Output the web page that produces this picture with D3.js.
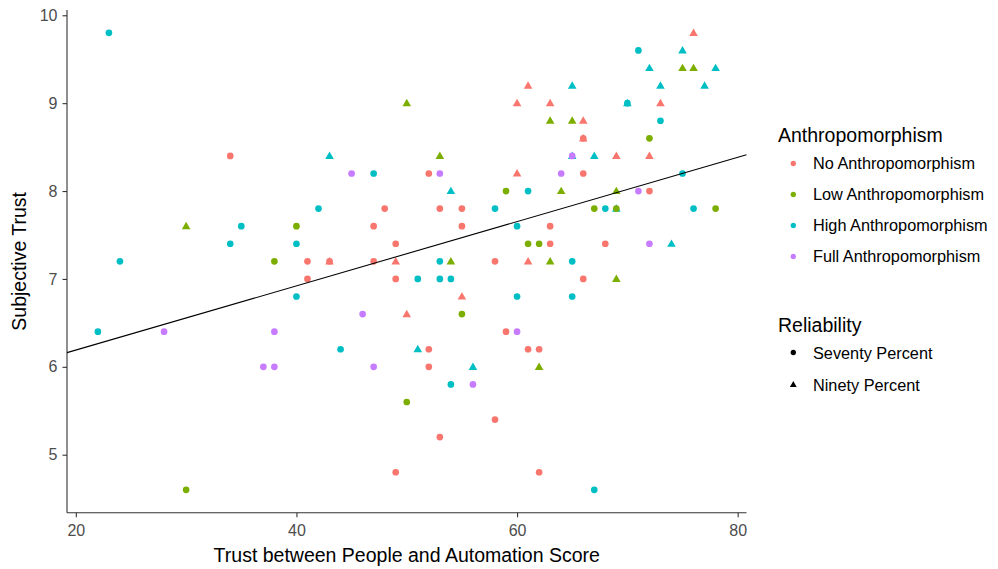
<!DOCTYPE html>
<html>
<head>
<meta charset="utf-8">
<script src="https://cdn.jsdelivr.net/npm/d3@7"></script>
<style>
  html, body { margin: 0; padding: 0; background: #fff; }
  text { font-family: "Liberation Sans", Arial, sans-serif; }
</style>
</head>
<body>
<svg id="chart" width="998" height="569"></svg>
<script>
// Anthropomorphism levels and reliability conditions
const anthroLevels = ["No Anthropomorphism", "Low Anthropomorphism", "High Anthropomorphism", "Full Anthropomorphism"];
const anthroColors = ["#F8766D", "#7CAE00", "#00BFC4", "#C77CFF"];
const reliabilityLevels = ["Seventy Percent", "Ninety Percent"];

const xTicks = [20, 40, 60, 80];
const yTicks = [5, 6, 7, 8, 9, 10];

// [trust score, subjective trust] per participant, grouped by condition
const noSeventy = [[34, 8.4], [52, 8.2], [48, 7.8], [53, 7.8], [55, 7.8], [47, 7.6], [55, 7.6], [49, 7.4], [41, 7.2], [47, 7.2], [58, 7.2], [41, 7.0], [49, 7.0], [52, 6.2], [52, 6.0], [58, 5.4], [53, 5.2], [49, 4.8], [66, 7.0], [59, 6.4], [61, 6.2], [62, 6.2], [62, 4.8], [66, 8.6], [66, 8.2], [72, 8.0], [63, 7.6], [63, 7.4], [68, 7.4], [43, 7.2]];
const noNinety = [[43, 7.2], [49, 7.2], [55, 6.8], [50, 6.6], [76, 9.8], [61, 9.2], [60, 9.0], [63, 9.0], [73, 9.0], [66, 8.8], [69, 8.4], [72, 8.4], [60, 8.2], [61, 7.2], [66, 8.6]];
const lowSeventy = [[40, 7.6], [38, 7.2], [55, 6.6], [50, 5.6], [30, 4.6], [72, 8.6], [59, 8.0], [67, 7.8], [69, 7.8], [78, 7.8], [61, 7.4], [62, 7.4]];
const lowNinety = [[30, 7.6], [50, 9.0], [53, 8.4], [54, 7.2], [69, 7.0], [62, 6.0], [75, 9.4], [76, 9.4], [63, 8.8], [65, 8.8], [64, 8.0], [69, 8.0], [63, 7.2]];
const highSeventy = [[23, 9.8], [35, 7.6], [34, 7.4], [24, 7.2], [47, 8.2], [42, 7.8], [58, 7.8], [40, 7.4], [53, 7.2], [51, 7.0], [53, 7.0], [54, 7.0], [40, 6.8], [44, 6.2], [54, 5.8], [22, 6.4], [60, 6.8], [65, 6.8], [67, 4.6], [71, 9.6], [70, 9.0], [73, 8.8], [75, 8.2], [61, 8.0], [68, 7.8], [76, 7.8], [60, 7.6], [65, 7.2]];
const highNinety = [[43, 8.4], [54, 8.0], [51, 6.2], [56, 6.0], [75, 9.6], [72, 9.4], [78, 9.4], [65, 9.2], [73, 9.2], [77, 9.2], [70, 9.0], [65, 8.4], [67, 8.4], [74, 7.4], [69, 7.8]];
const fullSeventy = [[45, 8.2], [53, 8.2], [46, 6.6], [38, 6.4], [37, 6.0], [38, 6.0], [47, 6.0], [56, 5.8], [28, 6.4], [60, 6.4], [65, 8.4], [64, 8.2], [71, 8.0], [72, 7.4]];
const fullNinety = [];

const groups = [
  { a: 0, r: 1, pts: noNinety }, { a: 1, r: 1, pts: lowNinety }, { a: 2, r: 1, pts: highNinety }, { a: 3, r: 1, pts: fullNinety },
  { a: 0, r: 0, pts: noSeventy }, { a: 1, r: 0, pts: lowSeventy }, { a: 2, r: 0, pts: highSeventy }, { a: 3, r: 0, pts: fullSeventy }
];
const points = groups.flatMap(g => g.pts.map(p => ({ x: p[0], y: p[1], a: g.a, r: g.r })));

const svg = d3.select("#chart");
const panel = { left: 67, right: 746.5, top: 10, bottom: 512.7 };

// Scales padded like ggplot's default 5% expansion
const xExt = d3.extent(points, d => d.x), yExt = d3.extent(points, d => d.y);
const xPad = (xExt[1] - xExt[0]) * 0.05, yPad = (yExt[1] - yExt[0]) * 0.05;
const x = d3.scaleLinear().domain([xExt[0] - xPad, xExt[1] + xPad]).range([panel.left, panel.right]);
const y = d3.scaleLinear().domain([yExt[0] - yPad, yExt[1] + yPad]).range([panel.bottom, panel.top]);

// Axes
const xAxis = svg.append("g").attr("transform", `translate(0,${panel.bottom})`)
  .call(d3.axisBottom(x).tickValues(xTicks).tickSize(4.5).tickPadding(7).tickFormat(d3.format("d")));
const yAxis = svg.append("g").attr("transform", `translate(${panel.left},0)`)
  .call(d3.axisLeft(y).tickValues(yTicks).tickSize(4.5).tickPadding(5).tickFormat(d3.format("d")));
[xAxis, yAxis].forEach(ax => {
  ax.select(".domain").attr("stroke", "#333").attr("stroke-width", 1.1);
  ax.selectAll(".tick line").attr("stroke", "#333").attr("stroke-width", 1.1);
  ax.selectAll(".tick text").attr("fill", "#4D4D4D").style("font-size", "16px")
    .style("font-family", "'Liberation Sans', Arial, sans-serif");
});
// Extend axis lines across the full panel
xAxis.select(".domain").attr("d", `M${panel.left},0H${panel.right}`);
yAxis.select(".domain").attr("d", `M0,${panel.bottom}V${panel.top}`);

// Shapes
const circle = d3.symbol().type(d3.symbolCircle).size(35);
const triangle = d3.symbol().type(d3.symbolTriangle).size(32);
const shapeFor = r => r === 0 ? circle() : triangle();

svg.append("g").selectAll("path").data(points).join("path")
  .attr("d", d => shapeFor(d.r))
  .attr("transform", d => `translate(${x(d.x)},${y(d.y) + (d.r === 1 ? 0.6 : 0)})`)
  .attr("fill", d => anthroColors[d.a]);

// Least-squares fit over all participants
const mx = d3.mean(points, d => d.x), my = d3.mean(points, d => d.y);
const slope = d3.sum(points, d => (d.x - mx) * (d.y - my)) / d3.sum(points, d => (d.x - mx) ** 2);
const intercept = my - slope * mx;
const xd = x.domain();
svg.append("path")
  .datum(xd.map(v => [v, intercept + slope * v]))
  .attr("d", d3.line().x(d => x(d[0])).y(d => y(d[1])))
  .attr("stroke", "#000").attr("stroke-width", 1.1).attr("fill", "none");

// Axis titles
svg.append("text").attr("x", (panel.left + panel.right) / 2).attr("y", 562)
  .attr("text-anchor", "middle").style("font-size", "19.5px").attr("fill", "#000")
  .text("Trust between People and Automation Score");
svg.append("text").attr("transform", `translate(25.5,${(panel.top + panel.bottom) / 2}) rotate(-90)`)
  .attr("text-anchor", "middle").style("font-size", "19.5px").attr("fill", "#000")
  .text("Subjective Trust");

// Legends
const legX = 778, keyX = 793.3, labX = 813;
svg.append("text").attr("x", legX).attr("y", 141.5).style("font-size", "19.5px").text("Anthropomorphism");
anthroLevels.forEach((lab, i) => {
  const cy = 163.5 + i * 31;
  svg.append("path").attr("d", d3.symbol().type(d3.symbolCircle).size(22)())
    .attr("transform", `translate(${keyX},${cy})`).attr("fill", anthroColors[i]);
  svg.append("text").attr("x", labX).attr("y", cy + 1.5).attr("dominant-baseline", "middle")
    .style("font-size", "16.3px").text(lab);
});
svg.append("text").attr("x", legX).attr("y", 331.5).style("font-size", "19.5px").text("Reliability");
reliabilityLevels.forEach((lab, i) => {
  const cy = 352.5 + i * 32.5;
  const sym = i === 0 ? d3.symbol().type(d3.symbolCircle).size(22)() : d3.symbol().type(d3.symbolTriangle).size(20)();
  svg.append("path").attr("d", sym).attr("transform", `translate(${keyX},${cy})`).attr("fill", "#000");
  svg.append("text").attr("x", labX).attr("y", cy + 2).attr("dominant-baseline", "middle")
    .style("font-size", "16.3px").text(lab);
});
</script>
</body>
</html>
